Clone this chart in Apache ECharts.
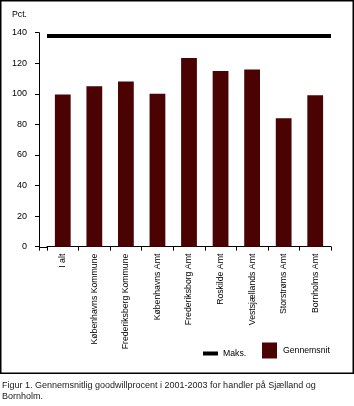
<!DOCTYPE html>
<html><head><meta charset="utf-8">
<script src="https://cdn.jsdelivr.net/npm/echarts@6/dist/echarts.min.js"></script>
<style>html,body{margin:0;padding:0;background:#fff}#c{width:354px;height:406px}</style>
</head><body><div id="c"></div>
<script>
var categories = ['I alt','Københavns Kommune','Frederiksberg Kommune','Københavns Amt','Frederiksborg Amt','Roskilde Amt','Vestsjællands Amt','Storstrøms Amt','Bornholms Amt'];
var gennemsnit = [99.5, 105, 108, 100, 123.5, 115, 116, 84, 99];
var maks = 138.3;
var yTicks = [0, 20, 40, 60, 80, 100, 120, 140];

var FONT = '"Liberation Sans", Arial, sans-serif';
var chart = echarts.init(document.getElementById('c'), null, {renderer:'canvas'});
var gridLeft = 47, gridTop = 32.7, gridBottom = 159.3, gridRight = 23;
function frame(){ return {type: 'rect', shape: {x: 0.75, y: 0.75, width: 352.5, height: 372.5}, style: {fill: 'none', stroke: '#000', lineWidth: 1.5}, silent: true}; }
chart.setOption({
  animation: false,
  backgroundColor: '#fff',
  title: [
    {text: 'Pct.', left: 12, top: 10, padding: 0, textStyle: {fontFamily: FONT, fontSize: 8.7, fontWeight: 'normal', color: '#000', lineHeight: 10}},
    {text: 'Figur 1. Gennemsnitlig goodwillprocent i 2001-2003 for handler på Sjælland og\nBornholm.', left: 2, top: 380.5, padding: 0,
     textStyle: {fontFamily: FONT, fontSize: 9, fontWeight: 'normal', color: '#1a1a1a', lineHeight: 11}}
  ],
  legend: [
    {data: [{name: 'Maks.', icon: 'rect'}], left: 203, top: 348, padding: 0, itemWidth: 15, itemHeight: 4, itemGap: 4,
     textStyle: {fontFamily: FONT, fontSize: 8.7, color: '#000', lineHeight: 11}},
    {data: [{name: 'Gennemsnit', icon: 'rect'}], left: 262, top: 340, padding: 0, itemWidth: 15, itemHeight: 16, itemGap: 4,
     textStyle: {fontFamily: FONT, fontSize: 8.7, color: '#000', lineHeight: 11, padding: [10, 0, 0, 1]}}
  ],
  grid: {left: gridLeft, right: gridRight, top: gridTop, bottom: gridBottom, containLabel: false},
  xAxis: {
    type: 'category', data: categories, boundaryGap: true,
    axisLine: {lineStyle: {color: '#000', width: 1}},
    axisTick: {show: true, length: 4, lineStyle: {color: '#000'}, alignWithLabel: false},
    axisLabel: {rotate: 90, margin: 7, interval: 0, fontFamily: FONT, fontSize: 8.7, color: '#000'}
  },
  yAxis: {
    type: 'value', min: 0, max: 140, interval: 20, offset: 8,
    axisLine: {show: true, lineStyle: {color: '#000', width: 1}},
    axisTick: {show: true, length: 4, lineStyle: {color: '#000'}},
    splitLine: {show: false},
    axisLabel: {margin: 12, fontFamily: FONT, fontSize: 9, color: '#000',
      formatter: function(v){ return yTicks.indexOf(v) >= 0 ? String(v) : ''; }}
  },
  series: [
    {name: 'Maks.', type: 'line', data: [], itemStyle: {color: '#000'}, lineStyle: {color: '#000'},
     markLine: {silent: true, symbol: 'none', label: {show: false},
       lineStyle: {color: '#000', width: 4, type: 'solid'}, data: [{yAxis: maks}]}},
    {name: 'Gennemsnit', type: 'bar', data: gennemsnit, barWidth: '50%', itemStyle: {color: '#4a0202'}}
  ],
  graphic: [frame()]
});
var p0 = chart.convertToPixel({yAxisIndex: 0}, 0);
chart.setOption({graphic: [
  frame(),
  {type: 'line', shape: {x1: gridLeft - 8, y1: Math.round(p0) + 0.5, x2: gridLeft, y2: Math.round(p0) + 0.5}, style: {stroke: '#000', lineWidth: 1}, silent: true},
  {type: 'line', shape: {x1: gridLeft - 8 + 0.5, y1: p0, x2: gridLeft - 8 + 0.5, y2: p0 + 4}, style: {stroke: '#000', lineWidth: 1}, silent: true}
]});
</script></body></html>
